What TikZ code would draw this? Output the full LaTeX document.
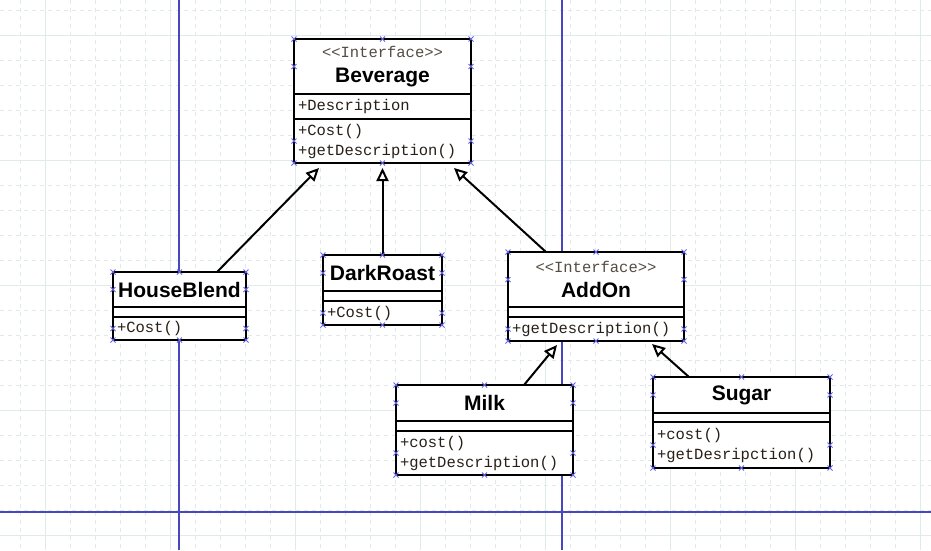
\documentclass[tikz,border=0pt]{standalone}
\usepackage{fontspec}
\usetikzlibrary{positioning,arrows.meta}
\newfontfamily\titlefont{Liberation Sans}
\newfontfamily\memberfont{Liberation Mono}
\definecolor{gridline}{RGB}{224,234,234}
\definecolor{guide}{RGB}{72,72,190}
\definecolor{handleblue}{RGB}{100,100,230}
\definecolor{membertext}{RGB}{40,32,24}
\definecolor{stereotext}{RGB}{85,76,66}
\tikzset{
  part/.style={draw=black,line width=2.5pt,fill=white,inner xsep=4pt,inner ysep=0pt,outer sep=0pt},
  head/.style={part,align=center,font=\titlefont\bfseries\fontsize{21}{25}\selectfont},
  members/.style={part,align=left,text=membertext,font=\memberfont\fontsize{15.5}{20}\selectfont},
  extends/.style={-{Triangle[open,length=13pt,width=12pt]},line width=2pt},
  handle/.style={draw=handleblue,line width=0.9pt}
}
\newcommand{\stereo}{{\memberfont\mdseries\fontsize{15.5}{20}\selectfont\color{stereotext}{<}{<}Interface{>}{>}}}
\begin{document}
\begin{tikzpicture}[x=1pt,y=-1pt]
\useasboundingbox (0,0) rectangle (931,550);
% grid
\foreach \x in {20,45,...,920}
  \draw[gridline,line width=1pt,dash pattern=on 4pt off 4pt] (\x,0) -- (\x,550);
\foreach \y in {10,35,...,535}
  \draw[gridline,line width=1pt,dash pattern=on 4pt off 4pt] (0,\y) -- (931,\y);
\foreach \x in {45,170,...,920}
  \draw[gridline,line width=1pt] (\x,0) -- (\x,550);
\foreach \y in {35,160,...,535}
  \draw[gridline,line width=1pt] (0,\y) -- (931,\y);
\draw[guide,line width=1.2pt] (179,0) -- (179,550) (562,0) -- (562,550) (0,512) -- (931,512);

% Beverage
\node[head,minimum width=177pt,minimum height=55pt,anchor=north west] (bev) at (294,39) {\stereo\\Beverage};
\node[members,text width=169pt,minimum height=25pt,below=0pt of bev] (bevA) {+Description};
\node[members,text width=169pt,minimum height=44pt,below=0pt of bevA] (bevM) {+Cost()\\+getDescription()};
% HouseBlend
\node[head,minimum width=133pt,minimum height=35pt,anchor=north west] (hb) at (113,272) {HouseBlend};
\node[members,text width=125pt,minimum height=10pt,below=0pt of hb] (hbA) {};
\node[members,text width=125pt,minimum height=23pt,below=0pt of hbA] (hbM) {+Cost()};
% DarkRoast
\node[head,minimum width=119pt,minimum height=36pt,anchor=north west] (dr) at (323,255) {DarkRoast};
\node[members,text width=111pt,minimum height=10pt,below=0pt of dr] (drA) {};
\node[members,text width=111pt,minimum height=24pt,below=0pt of drA] (drM) {+Cost()};
% AddOn
\node[head,minimum width=176pt,minimum height=55pt,anchor=north west] (add) at (508,252) {\stereo\\AddOn};
\node[members,text width=168pt,minimum height=10pt,below=0pt of add] (addA) {};
\node[members,text width=168pt,minimum height=24pt,below=0pt of addA] (addM) {+getDescription()};
% Milk
\node[head,minimum width=177pt,minimum height=36pt,anchor=north west] (milk) at (396,385) {Milk};
\node[members,text width=169pt,minimum height=10pt,below=0pt of milk] (milkA) {};
\node[members,text width=169pt,minimum height=44pt,below=0pt of milkA] (milkM) {+cost()\\+getDescription()};
% Sugar
\node[head,minimum width=177pt,minimum height=36pt,anchor=north west] (sug) at (653,377) {Sugar};
\node[members,text width=169pt,minimum height=9pt,below=0pt of sug] (sugA) {};
\node[members,text width=169pt,minimum height=46pt,below=0pt of sugA] (sugM) {+cost()\\+getDesripction()};

% generalisations
\draw[extends] ([xshift=37.5pt]hb.north) -- ([xshift=-63.5pt,yshift=-5pt]bevM.south);
\draw[extends] (dr.north) -- ([yshift=-5pt]bevM.south);
\draw[extends] ([xshift=-50pt]add.north) -- ([xshift=71.5pt,yshift=-5pt]bevM.south);
\draw[extends] ([xshift=39.5pt]milk.north) -- ([xshift=-39pt,yshift=-4pt]addM.south);
\draw[extends] ([xshift=-52.5pt]sug.north) -- ([xshift=56pt,yshift=-3pt]addM.south);

% selection handles
\foreach \h/\m in {bev/bevM,hb/hbM,dr/drM,add/addM,milk/milkM,sug/sugM}
  \foreach \p in {\h.north west,\h.north,\h.north east,\h.west,\h.east,\m.west,\m.east,\m.south west,\m.south,\m.south east}
    \draw[handle] (\p) +(-2.5pt,-2.5pt) -- +(2.5pt,2.5pt) +(-2.5pt,2.5pt) -- +(2.5pt,-2.5pt);
\end{tikzpicture}
\end{document}
